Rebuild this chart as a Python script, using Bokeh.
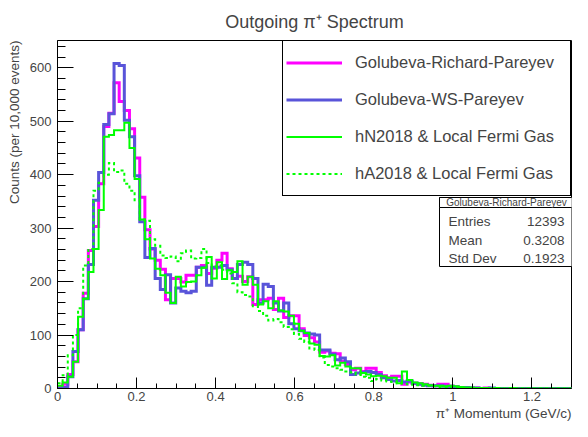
import numpy as np
from bokeh.plotting import figure
from bokeh.models import (FixedTicker, Legend, LegendItem, BoxAnnotation, Label, Range1d,
                          Title)
from bokeh.embed import file_html
from bokeh.resources import INLINE

# ---------------- data ----------------
BIN_WIDTH = 0.013
N_BINS = 100
X_MIN, X_MAX = 0.0, 1.3
Y_MAX = 651

# Golubeva-Richard-Pareyev
richard = [
    2, 8, 26, 50, 110, 178, 258, 303, 383, 490,
    515, 572, 537, 520, 486, 431, 358, 297, 261, 240,
    223, 166, 206, 206, 199, 212, 212, 227, 230, 215,
    225, 240, 253, 224, 206, 210, 200, 209, 157, 166,
    166, 169, 148, 169, 133, 136, 136, 112, 99, 95,
    87, 68, 70, 66, 65, 51, 45, 35, 38, 32,
    38, 38, 30, 24, 20, 23, 23, 8, 12, 10,
    9, 8, 6, 5, 8, 8, 4, 3, 2, 2,
    1, 1, 0, 1, 0, 0, 0, 0, 0, 0,
    0, 0, 0, 0, 0, 0, 0, 0, 0, 0,
]
# Golubeva-WS-Pareyev
ws = [
    0, 2, 22, 69, 110, 168, 232, 352, 404, 494,
    514, 608, 604, 502, 471, 398, 312, 245, 262, 206,
    185, 213, 160, 188, 182, 179, 182, 227, 227, 193,
    227, 227, 230, 222, 206, 232, 236, 232, 206, 160,
    195, 191, 160, 145, 160, 121, 112, 108, 104, 102,
    100, 72, 72, 64, 54, 57, 50, 26, 29, 30,
    32, 30, 26, 20, 17, 14, 15, 12, 14, 10,
    8, 6, 5, 5, 5, 4, 4, 3, 2, 2,
    1, 1, 0, 0, 1, 0, 0, 0, 0, 0,
    0, 0, 0, 0, 0, 0, 0, 0, 0, 0,
]
# hN2018 & Local Fermi Gas
hn2018 = [
    5, 11, 22, 50, 134, 168, 218, 261, 334, 471,
    474, 483, 483, 497, 450, 392, 316, 279, 243, 224,
    212, 179, 160, 209, 191, 199, 200, 212, 226, 246,
    206, 236, 205, 221, 218, 238, 194, 209, 194, 157,
    163, 150, 163, 146, 144, 136, 121, 108, 104, 84,
    82, 61, 60, 62, 43, 48, 41, 38, 38, 29,
    26, 23, 24, 23, 20, 20, 10, 32, 16, 11,
    10, 8, 6, 5, 5, 4, 5, 4, 3, 2,
    2, 1, 1, 1, 0, 1, 0, 0, 1, 0,
    0, 0, 0, 0, 0, 0, 0, 0, 0, 0,
]
# hA2018 & Local Fermi Gas
ha2018 = [
    10, 25, 62, 100, 150, 230, 261, 370, 385, 400,
    422, 405, 408, 383, 370, 352, 316, 314, 279, 267,
    249, 244, 247, 238, 253, 258, 243, 244, 261, 235,
    228, 230, 222, 215, 197, 180, 175, 172, 154, 145,
    136, 127, 130, 124, 115, 111, 102, 93, 87, 75,
    72, 58, 44, 41, 38, 35, 32, 30, 26, 22,
    20, 14, 18, 15, 13, 12, 10, 9, 8, 7,
    6, 5, 5, 4, 3, 3, 2, 2, 1, 1,
    1, 0, 0, 0, 0, 0, 0, 0, 0, 0,
    0, 0, 0, 0, 0, 0, 0, 0, 0, 0,
]

series_names = [
    "Golubeva-Richard-Pareyev",
    "Golubeva-WS-Pareyev",
    "hN2018 & Local Fermi Gas",
    "hA2018 & Local Fermi Gas",
]

x_ticks = [0, 0.2, 0.4, 0.6, 0.8, 1.0, 1.2]
x_tick_labels = ["0", "0.2", "0.4", "0.6", "0.8", "1", "1.2"]
x_minor_ticks = [0.05, 0.1, 0.15, 0.25, 0.3, 0.35, 0.45, 0.5, 0.55, 0.65, 0.7, 0.75,
                 0.85, 0.9, 0.95, 1.05, 1.1, 1.15, 1.25]
y_ticks = [0, 100, 200, 300, 400, 500, 600]
y_minor_ticks = [20, 40, 60, 80, 120, 140, 160, 180, 220, 240, 260, 280, 320, 340, 360,
                 380, 420, 440, 460, 480, 520, 540, 560, 580, 620, 640]

x_title = "π⁺ Momentum (GeV/c)"
y_title = "Counts (per 10,000 events)"
stats_title = "Golubeva-Richard-Pareyev"
stats_labels = ["Entries", "Mean", "Std Dev"]
stats_values = ["12393", "0.3208", "0.1923"]

# ---------------- styles ----------------
FONT = "Liberation Sans"
styles = [
    dict(color="#ff00ff", width=3, dash="solid"),
    dict(color="#5954d9", width=3, dash="solid"),
    dict(color="#00ff00", width=2, dash="solid"),
    dict(color="#00ff00", width=2, dash="3 3"),
]

W, H = 572, 421
BL, BR, BT, BB = 55, 1, 40, 33
FW = W - BL - BR
FH = H - BT - BB

p = figure(width=W, height=H, x_range=Range1d(X_MIN, X_MAX), y_range=Range1d(0, Y_MAX),
           output_backend="svg", toolbar_location=None,
           min_border_left=BL, min_border_right=BR, min_border_top=BT, min_border_bottom=BB,
           title="Outgoing π⁺ Spectrum")
p.background_fill_color = "white"
p.border_fill_color = "white"
p.outline_line_color = "black"
p.outline_line_width = 1
p.xgrid.visible = False
p.ygrid.visible = False

p.title.align = "center"
p.title.text_font = FONT
p.title.text_font_size = "18px"
p.title.text_font_style = "normal"
p.title.standoff = 17

edges = X_MIN + BIN_WIDTH * np.arange(N_BINS + 1)
items = []
for name, vals, st in zip(series_names, [richard, ws, hn2018, ha2018], styles):
    y_ext = np.append(np.array(vals, dtype=float), vals[-1])
    r = p.step(edges, y_ext, mode="after", line_color=st["color"], line_width=st["width"],
               line_dash=st["dash"], line_join="miter")
    items.append(LegendItem(label=name, renderers=[r]))

xa = p.xaxis[0]
xa.ticker = FixedTicker(ticks=x_ticks, minor_ticks=x_minor_ticks)
xa.major_label_overrides = dict(zip(x_ticks, x_tick_labels))
xa.major_label_standoff = 3
xa.major_label_text_font = FONT
xa.major_label_text_font_size = "13px"
xa.major_tick_in = 11
xa.major_tick_out = 0
xa.minor_tick_in = 5
xa.minor_tick_out = 0
xa.axis_line_color = "black"
xa.major_tick_line_color = "black"
xa.minor_tick_line_color = "black"

ya = p.yaxis[0]
ya.ticker = FixedTicker(ticks=y_ticks, minor_ticks=y_minor_ticks)
ya.major_label_standoff = 6
ya.major_label_text_font = FONT
ya.major_label_text_font_size = "13px"
ya.major_tick_in = 16
ya.major_tick_out = 0
ya.minor_tick_in = 8
ya.minor_tick_out = 0
ya.axis_line_color = "black"
ya.major_tick_line_color = "black"
ya.minor_tick_line_color = "black"

# axis titles, aligned to the axis ends as in ROOT
p.add_layout(Title(text=x_title, align="right", text_font=FONT, text_font_size="13.5px",
                   text_font_style="normal", standoff=0), "below")
p.add_layout(Title(text=y_title, align="right", text_font=FONT, text_font_size="13.5px",
                   text_font_style="normal", standoff=9), "left")

legend = Legend(items=items, location="top_right", margin=0, padding=3, spacing=0,
                glyph_width=56, glyph_height=37, label_height=37, label_width=212,
                label_standoff=13, label_text_font=FONT, label_text_font_size="16.5px",
                border_line_color="black", border_line_width=1, border_line_alpha=1,
                background_fill_color="white", background_fill_alpha=1)
p.add_layout(legend)

# stats box (screen units relative to the frame, origin at bottom-left)
legend_h = 4 * 37 + 2 * 3
box_top = FH - legend_h - 3
box_h = 69
box_w = 134
box_left = FW - box_w
stats_box = BoxAnnotation(left=box_left, right=FW, top=box_top, bottom=box_top - box_h,
                          left_units="screen", right_units="screen",
                          top_units="screen", bottom_units="screen",
                          fill_color="white", fill_alpha=1, line_color="black",
                          line_alpha=1, line_width=1)
header_box = BoxAnnotation(left=box_left, right=FW, top=box_top, bottom=box_top - 10,
                           left_units="screen", right_units="screen",
                           top_units="screen", bottom_units="screen",
                           fill_color="white", fill_alpha=1, line_color="black",
                           line_alpha=1, line_width=1)
p.add_layout(stats_box)
p.add_layout(header_box)
p.add_layout(Label(x=box_left + box_w / 2, y=box_top - 5, x_units="screen", y_units="screen",
                   text=stats_title, text_align="center", text_baseline="middle",
                   text_font=FONT, text_font_size="10px"))
row_offsets = [24, 43, 61]
for lab, val, off in zip(stats_labels, stats_values, row_offsets):
    p.add_layout(Label(x=box_left + 9, y=box_top - off, x_units="screen", y_units="screen",
                       text=lab, text_align="left", text_baseline="middle",
                       text_font=FONT, text_font_size="13.5px"))
    p.add_layout(Label(x=FW - 9, y=box_top - off, x_units="screen", y_units="screen",
                       text=val, text_align="right", text_baseline="middle",
                       text_font=FONT, text_font_size="13.5px"))

open("out.html", "w").write(file_html(p, INLINE))
